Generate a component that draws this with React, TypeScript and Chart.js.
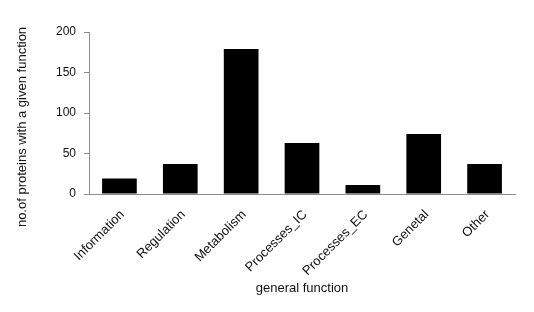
import React, { useEffect, useRef } from "react";
import { Chart, registerables } from "chart.js";

Chart.register(...registerables);

const categories = ["Information", "Regulation", "Metabolism", "Processes_IC", "Processes_EC", "Genetal", "Other"];
const proteinCounts = [19, 37, 179, 63, 11, 74, 37];
const yTitle = "no.of proteins with a given function";
const xTitle = "general function";

const FONT = "'Liberation Sans', Arial, sans-serif";

const yTitlePlugin = {
  id: "yTitlePlugin",
  afterDraw(chart: any) {
    const { ctx, chartArea } = chart;
    ctx.save();
    ctx.translate(22, (chartArea.top + chartArea.bottom) / 2 + 14);
    ctx.rotate(-Math.PI / 2);
    ctx.font = `13px ${FONT}`;
    ctx.fillStyle = "#111";
    ctx.textAlign = "center";
    ctx.textBaseline = "middle";
    ctx.fillText(yTitle, 0, 0);
    ctx.restore();
  },
};

export default function App() {
  const ref = useRef<HTMLCanvasElement | null>(null);
  useEffect(() => {
    if (!ref.current) return;
    const chart = new Chart(ref.current, {
      type: "bar",
      data: {
        labels: categories,
        datasets: [
          {
            data: proteinCounts,
            backgroundColor: "#000000",
            borderColor: "#000000",
            borderWidth: 0,
            barPercentage: 0.57,
            categoryPercentage: 1,
          },
        ],
      },
      plugins: [yTitlePlugin],
      options: {
        animation: false,
        responsive: false,
        maintainAspectRatio: false,
        layout: { padding: { top: 32, right: 19, bottom: 0, left: 0 } },
        plugins: { legend: { display: false }, tooltip: { enabled: false } },
        scales: {
          x: {
            grid: { display: false, drawTicks: false },
            border: { display: true, color: "#8c8c8c", width: 1 },
            ticks: {
              color: "#111",
              font: { family: FONT, size: 13 },
              minRotation: 45,
              maxRotation: 45,
              padding: 13,
              labelOffset: 3,
            },
            title: {
              display: true,
              text: xTitle,
              color: "#111",
              font: { family: FONT, size: 13 },
              padding: { top: 0, bottom: 16 },
            },
            afterFit(scale: any) {
              scale.height = 118;
            },
          },
          y: {
            min: 0,
            max: 200,
            grid: { drawOnChartArea: false, drawTicks: true, tickLength: 5, color: "#8c8c8c" },
            border: { display: true, color: "#8c8c8c", width: 1 },
            ticks: {
              stepSize: 50,
              color: "#111",
              font: { family: FONT, size: 12 },
              padding: 8,
            },
            afterFit(scale: any) {
              scale.width = 89;
            },
          },
        },
      },
    });
    return () => chart.destroy();
  }, []);
  return (
    <div style={{ position: "absolute", left: 0, top: 0, width: 534, height: 312, background: "#fff" }}>
      <canvas ref={ref} width={534} height={312} style={{ width: 534, height: 312 }} />
    </div>
  );
}
